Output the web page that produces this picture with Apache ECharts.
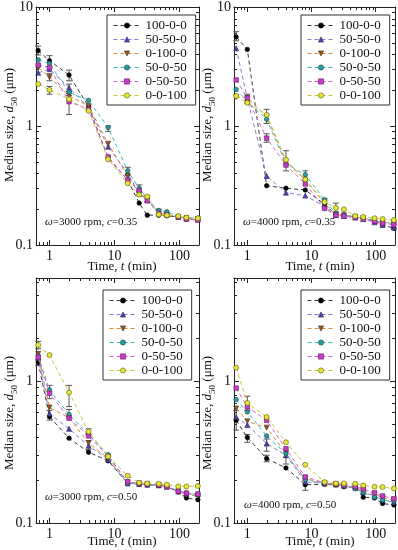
<!DOCTYPE html>
<html><head><meta charset="utf-8">
<script src="https://cdn.jsdelivr.net/npm/echarts@6/dist/echarts.min.js"></script>
<style>html,body{margin:0;padding:0;background:#fff}#c{width:398px;height:550px}</style>
</head><body><div id="c"></div>
<script>
// ---------- data ----------
const times = [0.67, 1, 2, 4, 8, 16, 24, 32, 48, 64, 96, 128, 192];
const seriesNames = ['100-0-0', '50-50-0', '0-100-0', '50-0-50', '0-50-50', '0-0-100'];
const xTickLabels = ['1', '10', '100'];
const yTickLabels = ['0.1', '1', '10'];
const panelOmega = ['3000', '4000', '3000', '4000'];
const panelC = ['0.35', '0.35', '0.50', '0.50'];

// panel 1: omega=3000 rpm, c=0.35
const p1_100_0_0 = [4.3, 3.54, 2.68, 1.45, 0.54, 0.35, 0.225, 0.178, 0.178, 0.176, 0.172, 0.165, 0.163];
const p1_50_50_0 = [2.8, 3.0, 2.1, 1.42, 0.67, 0.40, 0.27, 0.24, 0.185, 0.18, 0.172, 0.168, 0.165];
const p1_0_100_0 = [3.1, 2.57, 1.8, 1.47, 0.71, 0.38, 0.27, 0.24, 0.18, 0.178, 0.172, 0.168, 0.165];
const p1_50_0_50 = [3.6, 3.35, 1.92, 1.64, 0.97, 0.42, 0.30, 0.245, 0.195, 0.19, 0.175, 0.17, 0.168];
const p1_0_50_50 = [3.25, 3.1, 1.6, 1.38, 0.55, 0.35, 0.285, 0.235, 0.185, 0.18, 0.172, 0.165, 0.162];
const p1_0_0_100 = [2.25, 2.01, 1.68, 1.34, 0.525, 0.33, 0.265, 0.255, 0.18, 0.178, 0.175, 0.17, 0.168];
// panel 2: omega=4000 rpm, c=0.35
const p2_100_0_0 = [5.6, 4.4, 0.315, 0.30, 0.29, 0.22, 0.18, 0.178, 0.172, 0.168, 0.16, 0.148, 0.138];
const p2_50_50_0 = [4.5, 1.7, 0.38, 0.275, 0.26, 0.21, 0.178, 0.175, 0.17, 0.165, 0.155, 0.147, 0.14];
const p2_0_100_0 = [1.75, 1.72, 1.2, 0.5, 0.35, 0.225, 0.18, 0.178, 0.172, 0.168, 0.16, 0.155, 0.152];
const p2_50_0_50 = [2.03, 1.6, 1.14, 0.48, 0.39, 0.24, 0.182, 0.178, 0.172, 0.168, 0.16, 0.155, 0.152];
const p2_0_50_50 = [2.44, 1.72, 0.79, 0.47, 0.326, 0.203, 0.178, 0.175, 0.17, 0.165, 0.158, 0.152, 0.148];
const p2_0_0_100 = [1.79, 1.57, 1.24, 0.52, 0.356, 0.23, 0.205, 0.2, 0.175, 0.172, 0.168, 0.165, 0.162];
// panel 3: omega=3000 rpm, c=0.50
const p3_100_0_0 = [1.35, 0.56, 0.395, 0.315, 0.274, 0.19, 0.188, 0.186, 0.184, 0.18, 0.165, 0.15, 0.146];
const p3_50_50_0 = [1.45, 0.59, 0.46, 0.35, 0.28, 0.19, 0.188, 0.186, 0.184, 0.18, 0.167, 0.16, 0.16];
const p3_0_100_0 = [1.55, 0.65, 0.55, 0.365, 0.285, 0.193, 0.19, 0.187, 0.184, 0.18, 0.167, 0.158, 0.155];
const p3_50_0_50 = [1.5, 0.865, 0.58, 0.42, 0.302, 0.19, 0.19, 0.187, 0.185, 0.182, 0.168, 0.163, 0.158];
const p3_0_50_50 = [1.47, 0.82, 0.547, 0.41, 0.294, 0.195, 0.19, 0.187, 0.185, 0.18, 0.167, 0.162, 0.16];
const p3_0_0_100 = [1.79, 1.52, 0.83, 0.44, 0.294, 0.215, 0.192, 0.19, 0.189, 0.186, 0.181, 0.181, 0.182];
// panel 4: omega=4000 rpm, c=0.50
const p4_100_0_0 = [0.528, 0.40, 0.284, 0.244, 0.186, 0.187, 0.185, 0.18, 0.178, 0.152, 0.15, 0.137, 0.134];
const p4_50_50_0 = [0.557, 0.49, 0.362, 0.30, 0.195, 0.19, 0.187, 0.183, 0.178, 0.165, 0.155, 0.145, 0.14];
const p4_0_100_0 = [0.64, 0.52, 0.469, 0.307, 0.205, 0.19, 0.187, 0.183, 0.178, 0.17, 0.16, 0.15, 0.145];
const p4_50_0_50 = [0.74, 0.605, 0.41, 0.307, 0.202, 0.19, 0.187, 0.182, 0.174, 0.165, 0.152, 0.145, 0.143];
const p4_0_50_50 = [0.89, 0.656, 0.528, 0.333, 0.211, 0.192, 0.188, 0.185, 0.18, 0.174, 0.163, 0.155, 0.148];
const p4_0_0_100 = [1.24, 0.70, 0.557, 0.37, 0.257, 0.194, 0.19, 0.19, 0.189, 0.184, 0.18, 0.179, 0.175];

// error bars: [time, low, high]
const p1_err = [[0.67, 3.95, 4.7], [1, 3.15, 3.9], [2, 2.4, 2.95], [2, 1.25, 1.8], [1, 1.85, 2.15], [1, 2.4, 2.75], [2, 1.95, 2.25], [8, 0.9, 1.0], [16, 0.39, 0.45], [24, 0.28, 0.32], [32, 0.23, 0.26], [48, 0.18, 0.2]];
const p2_err = [[0.67, 5.2, 6.2], [2, 1.05, 1.38], [2, 0.73, 0.86], [4, 0.42, 0.62], [8, 0.35, 0.42], [16, 0.21, 0.245], [24, 0.19, 0.225], [1, 1.55, 1.85]];
const p3_err = [[0.67, 1.68, 1.9], [1, 0.75, 0.93], [2, 0.66, 0.93], [2, 0.55, 0.63], [1, 0.53, 0.62], [4, 0.33, 0.38], [4, 0.42, 0.46], [0.67, 1.28, 1.42]];
const p4_err = [[1, 0.62, 0.78], [0.67, 0.45, 0.62], [2, 0.27, 0.3], [2, 0.32, 0.39], [4, 0.26, 0.29], [8, 0.17, 0.2], [1, 0.37, 0.42]];

const xMinorVals = [0.7, 0.8, 0.9, 2, 3, 4, 5, 6, 7, 8, 9, 20, 30, 40, 50, 60, 70, 80, 90];
const yMinorVals = [0.2, 0.3, 0.4, 0.5, 0.6, 0.7, 0.8, 0.9, 2, 3, 4, 5, 6, 7, 8, 9];

const panels = [
  [p1_100_0_0, p1_50_50_0, p1_0_100_0, p1_50_0_50, p1_0_50_50, p1_0_0_100],
  [p2_100_0_0, p2_50_50_0, p2_0_100_0, p2_50_0_50, p2_0_50_50, p2_0_0_100],
  [p3_100_0_0, p3_50_50_0, p3_0_100_0, p3_50_0_50, p3_0_50_50, p3_0_0_100],
  [p4_100_0_0, p4_50_50_0, p4_0_100_0, p4_50_0_50, p4_0_50_50, p4_0_0_100]
];
const panelErrs = [p1_err, p2_err, p3_err, p4_err];

// ---------- styling ----------
const FONT = 'Liberation Serif';
const TXT = '#111';
const styles = [
  {line: '#3a3a3a', fill: '#000000', border: '#000000', symbol: 'circle', size: 4.5, rot: 0},
  {line: '#8a7cd6', fill: '#4f45a8', border: '#2a2460', symbol: 'triangle', size: 5, rot: 0},
  {line: '#d88f3a', fill: '#8a5a2c', border: '#4a2e10', symbol: 'triangle', size: 5, rot: 180},
  {line: '#3fbcc8', fill: '#2c9c9c', border: '#0f4444', symbol: 'circle', size: 4.5, rot: 0},
  {line: '#d860d8', fill: '#c83cc8', border: '#601860', symbol: 'rect', size: 4.5, rot: 0},
  {line: '#c6c63c', fill: '#e6e63a', border: '#5c5c00', symbol: 'circle', size: 5, rot: 0}
];
const grids = [
  {left: 36, top: 7, width: 163, height: 238},
  {left: 234, top: 7, width: 163, height: 238},
  {left: 36, top: 278, width: 163, height: 245},
  {left: 234, top: 278, width: 163, height: 245}
];
const yMaxs = [10, 10, 5.3, 5.3];
const xMin = 0.62, xMax = 200;
const legendPos = [[107, 15], [301, 15], [103, 290], [301, 290]];

function fmt(v, list) {
  for (const s of list) {
    if (Math.abs(Math.log10(v) - Math.log10(parseFloat(s))) < 1e-4) return s;
  }
  return '';
}

const xAxis = [], yAxis = [], series = [], legend = [], graphic = [];
grids.forEach((g, gi) => {
  const common = {type: 'log', logBase: 10, splitLine: {show: false}, minorTick: {show: false}, minorSplitLine: {show: false},
    axisLine: {show: true, onZero: false, lineStyle: {color: '#222', width: 1}},
    axisTick: {show: true, inside: true, length: 5, lineStyle: {color: '#222', width: 1}}};
  xAxis.push(Object.assign({}, common, {gridIndex: gi, min: xMin, max: xMax, position: 'bottom',
    axisLabel: {show: true, formatter: v => fmt(v, xTickLabels), color: TXT, fontFamily: FONT, fontSize: 14, margin: 4}}));
  yAxis.push(Object.assign({}, common, {gridIndex: gi, min: 0.1, max: yMaxs[gi], position: 'left',
    axisLabel: {show: true, formatter: v => fmt(v, yTickLabels), color: TXT, fontFamily: FONT, fontSize: 14, margin: 3}}));
});
grids.forEach((g, gi) => {
  const common = {type: 'log', logBase: 10, splitLine: {show: false}, minorTick: {show: false},
    axisLine: {show: true, onZero: false, lineStyle: {color: '#222', width: 1}},
    axisTick: {show: true, inside: true, length: 5, lineStyle: {color: '#222', width: 1}}, axisLabel: {show: false}};
  xAxis.push(Object.assign({}, common, {gridIndex: gi, min: xMin, max: xMax, position: 'top'}));
  yAxis.push(Object.assign({}, common, {gridIndex: gi, min: 0.1, max: yMaxs[gi], position: 'right'}));
});

panels.forEach((vals, gi) => {
  // minor ticks
  const tickData = [];
  xMinorVals.forEach(v => { if (v > xMin && v < xMax) tickData.push([v, 1, 0]); });
  yMinorVals.forEach(v => { if (v > 0.1 && v < yMaxs[gi]) tickData.push([1, v, 1]); });
  series.push({type: 'custom', name: 'minor' + gi, xAxisIndex: gi, yAxisIndex: gi, silent: true, z: 1,
    encode: {x: 0, y: 1}, data: tickData,
    renderItem: (p, api) => {
      const cs = p.coordSys; const kind = api.value(2); const pt = api.coord([api.value(0), api.value(1)]); const L = 3;
      const st = {stroke: '#222', lineWidth: 1};
      if (kind === 0) {
        const x = Math.round(pt[0]) + 0.5;
        return {type: 'group', children: [
          {type: 'line', shape: {x1: x, y1: cs.y + cs.height, x2: x, y2: cs.y + cs.height - L}, style: st},
          {type: 'line', shape: {x1: x, y1: cs.y, x2: x, y2: cs.y + L}, style: st}]};
      }
      const y = Math.round(pt[1]) + 0.5;
      return {type: 'group', children: [
        {type: 'line', shape: {x1: cs.x, y1: y, x2: cs.x + L, y2: y}, style: st},
        {type: 'line', shape: {x1: cs.x + cs.width, y1: y, x2: cs.x + cs.width - L, y2: y}, style: st}]};
    }});
  // error bars
  series.push({type: 'custom', name: 'err' + gi, xAxisIndex: gi, yAxisIndex: gi, silent: true, z: 2,
    encode: {x: 0, y: [1, 2]}, data: panelErrs[gi],
    renderItem: (p, api) => {
      const a = api.coord([api.value(0), api.value(1)]), b = api.coord([api.value(0), api.value(2)]);
      const w = 3, st = {stroke: '#555', lineWidth: 1};
      return {type: 'group', children: [
        {type: 'line', shape: {x1: a[0], y1: a[1], x2: b[0], y2: b[1]}, style: st},
        {type: 'line', shape: {x1: a[0] - w, y1: a[1], x2: a[0] + w, y2: a[1]}, style: st},
        {type: 'line', shape: {x1: b[0] - w, y1: b[1], x2: b[0] + w, y2: b[1]}, style: st}]};
    }});
  vals.forEach((arr, k) => {
    const s = styles[k];
    series.push({type: 'line', name: seriesNames[k], xAxisIndex: gi, yAxisIndex: gi,
      data: times.map((t, i) => [t, arr[i]]),
      symbol: s.symbol, symbolSize: s.size, symbolRotate: s.rot, showSymbol: true,
      itemStyle: {color: s.fill, borderColor: s.border, borderWidth: 0.6},
      lineStyle: {color: s.line, width: 1, type: [4, 3]},
      z: 3 + k, animation: false});
  });
  legend.push({data: seriesNames, left: legendPos[gi][0], top: legendPos[gi][1], orient: 'vertical',
    itemWidth: 27, itemHeight: 6.5, itemGap: 1, padding: [4, 9, 3, 6], borderColor: '#333', borderWidth: 1,
    backgroundColor: '#fff', selectedMode: false, z: 20,
    lineStyle: {width: 1}, itemStyle: {borderWidth: 0.6},
    textStyle: {fontFamily: FONT, fontSize: 13, color: TXT, lineHeight: 13}});
});

// axis titles and annotations
const rich = {
  i: {fontFamily: FONT, fontSize: 13, fontStyle: 'italic', fill: TXT, color: TXT},
  s: {fontFamily: FONT, fontSize: 9, fill: TXT, color: TXT, verticalAlign: 'bottom', lineHeight: 18},
  n: {fontFamily: FONT, fontSize: 13, fill: TXT, color: TXT}
};
const ytPos = [[10, 125], [208, 125], [10, 413], [208, 413]];
const xtPos = [[122, 267], [320, 267], [122, 542], [320, 542]];
const annPos = [[45, 222], [243, 222], [45, 497], [244, 505]];
for (let gi = 0; gi < 4; gi++) {
  graphic.push({type: 'text', x: ytPos[gi][0], y: ytPos[gi][1], rotation: Math.PI / 2, silent: true,
    style: {text: '{n|Median size, }{i|d}{s|50}{n| (μm)}', align: 'center', verticalAlign: 'middle', rich: rich,
      fontFamily: FONT, fontSize: 13, fill: TXT}});
  graphic.push({type: 'text', x: xtPos[gi][0], y: xtPos[gi][1], silent: true,
    style: {text: '{n|Time, }{i|t}{n| (min)}', align: 'center', verticalAlign: 'middle', rich: rich,
      fontFamily: FONT, fontSize: 13, fill: TXT}});
  graphic.push({type: 'text', x: annPos[gi][0], y: annPos[gi][1], silent: true, z: 30,
    style: {text: '{a|ω}{b|=' + panelOmega[gi] + ' rpm, }{a|c}{b|=' + panelC[gi] + '}', align: 'left', verticalAlign: 'middle',
      rich: {a: {fontFamily: FONT, fontSize: 11, fontStyle: 'italic', fill: TXT, color: TXT},
             b: {fontFamily: FONT, fontSize: 11, fill: TXT, color: TXT}},
      fontFamily: FONT, fontSize: 11, fill: TXT}});
}

const chart = echarts.init(document.getElementById('c'), null, {renderer: 'canvas'});
chart.setOption({
  animation: false,
  backgroundColor: '#fff',
  grid: grids,
  xAxis: xAxis,
  yAxis: yAxis,
  legend: legend,
  series: series,
  graphic: graphic
});
</script>
</body></html>
